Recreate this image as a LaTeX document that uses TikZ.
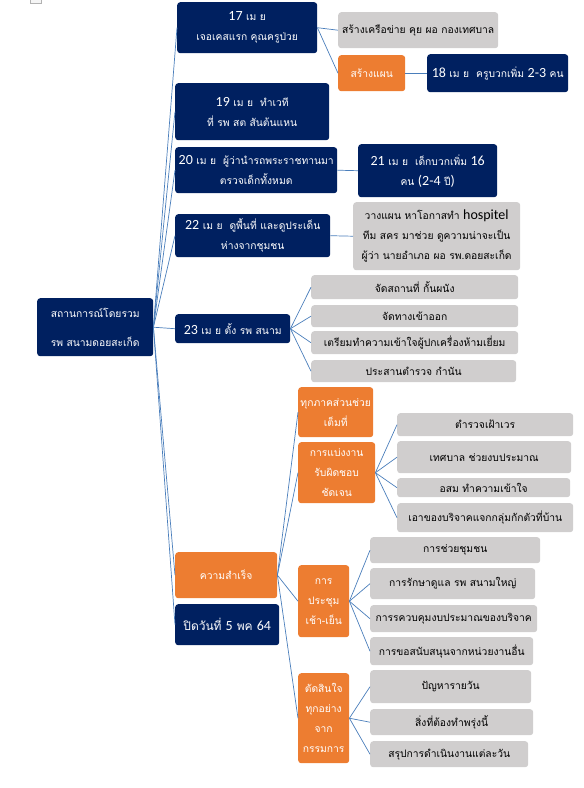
\documentclass[tikz,border=0pt]{standalone}
\usepackage{fontspec}
\setmainfont{Loma}[Script=Thai]
\newfontfamily\latfont{Carlito}
\usetikzlibrary{positioning}
\definecolor{mapblue}{HTML}{002060}
\definecolor{maporange}{HTML}{ED7D31}
\definecolor{mapgray}{HTML}{D0CECE}
\definecolor{mapline}{HTML}{4A7EBB}
\newcommand{\numtxt}[1]{{\latfont\fontsize{14}{16}\selectfont #1}}

\begin{document}
\begin{tikzpicture}[x=1pt,y=-1pt,
         box/.style = {rectangle, rounded corners=3pt, anchor=north west,
         inner sep=0pt, align=center, font=\fontsize{10.3}{20}\selectfont},
         bluebox/.style = {box, fill=mapblue, text=white},
         orangebox/.style = {box, fill=maporange, text=white},
         graybox/.style = {box, fill=mapgray, text=black},
         link/.style = {draw=mapline, line width=0.7pt}
]
         \useasboundingbox (0,0) rectangle (584,788);
         \draw[gray!60, fill=gray!8] (30,-2) rectangle (41,3);

         % root
         \node[bluebox, minimum width=116, minimum height=58,
         font=\fontsize{10.3}{29}\selectfont] (root) at (37,298)
         {สถานการณ์โดยรวม\\รพ สนามดอยสะเก็ด};

         % timeline
         \node[bluebox, minimum width=140, minimum height=51] (d17) at (177,2)
         {\numtxt{17} เม ย\\เจอเคสแรก คุณครูป่วย};
         \node[graybox, minimum width=160, minimum height=36] (d17net) at (338,12)
         {สร้างเครือข่าย คุย ผอ กองเทศบาล};
         \node[orangebox, minimum width=67, minimum height=36] (d17plan) at (338,55)
         {สร้างแผน};
         \node[bluebox, minimum width=141, minimum height=38] (d18) at (427,54)
         {\numtxt{18} เม ย\ \ ครูบวกเพิ่ม \numtxt{2-3} คน};

         \node[bluebox, minimum width=154, minimum height=57] (d19) at (175,83)
         {\numtxt{19} เม ย\ \ ทำเวที\\ที่ รพ สต สันต้นแหน};

         \node[bluebox, minimum width=162, minimum height=46] (d20) at (175,147)
         {\numtxt{20} เม ย\ \ ผู้ว่านำรถพระราชทานมา\\ตรวจเด็กทั้งหมด};
         \node[bluebox, minimum width=139, minimum height=53] (d21) at (358,144)
         {\numtxt{21} เม ย\ \ เด็กบวกเพิ่ม \numtxt{16}\\คน \numtxt{(2-4} ปี\numtxt{)}};

         \node[bluebox, minimum width=155, minimum height=43] (d22) at (175,214)
         {\numtxt{22} เม ย\ \ ดูพื้นที่ และดูประเด็น\\ห่างจากชุมชน};
         \node[graybox, minimum width=167, minimum height=68] (d22plan) at (353,202)
         {วางแผน หาโอกาสทำ \numtxt{hospitel}\\ทีม สคร มาช่วย ดูความน่าจะเป็น\\ผู้ว่า นายอำเภอ ผอ รพ.ดอยสะเก็ด};

         % field hospital
         \node[bluebox, minimum width=115, minimum height=29] (d23) at (175,314)
         {\numtxt{23} เม ย ตั้ง รพ สนาม};
         \node[graybox, minimum width=207, minimum height=24] (d23a) at (311,275)
         {จัดสถานที่ กั้นผนัง};
         \node[graybox, minimum width=207, minimum height=22] (d23b) at (311,305)
         {จัดทางเข้าออก};
         \node[graybox, minimum width=207, minimum height=23] (d23c) at (311,331)
         {เตรียมทำความเข้าใจผู้ปกเครื่องห้ามเยี่ยม};
         \node[graybox, minimum width=205, minimum height=22] (d23d) at (311,360)
         {ประสานตำรวจ กำนัน};

         % success
         \node[orangebox, minimum width=102, minimum height=46] (win) at (175,552)
         {ความสำเร็จ};
         \node[bluebox, minimum width=104, minimum height=41,
         font=\fontsize{12}{20}\selectfont] (close) at (175,604)
         {ปิดวันที่ \numtxt{5} พค \numtxt{64}};

         \node[orangebox, minimum width=75, minimum height=50] (win1) at (298,387)
         {ทุกภาคส่วนช่วย\\เต็มที่};

         \node[orangebox, minimum width=77, minimum height=61] (win2) at (298,442)
         {การแบ่งงาน\\รับผิดชอบ\\ชัดเจน};
         \node[graybox, minimum width=176, minimum height=23] (win2a) at (397,413)
         {ตำรวจเฝ้าเวร};
         \node[graybox, minimum width=174, minimum height=32] (win2b) at (397,441)
         {เทศบาล ช่วยงบประมาณ};
         \node[graybox, minimum width=173, minimum height=19] (win2c) at (397,478)
         {อสม ทำความเข้าใจ};
         \node[graybox, minimum width=176, minimum height=29] (win2d) at (397,503)
         {เอาของบริจาคแจกกลุ่มกักตัวที่บ้าน};

         \node[orangebox, minimum width=51, minimum height=72] (win3) at (298,565)
         {การ\\ประชุม\\เช้า-เย็น};
         \node[graybox, minimum width=170, minimum height=26] (win3a) at (370,537)
         {การช่วยชุมชน};
         \node[graybox, minimum width=165, minimum height=31] (win3b) at (370,568)
         {การรักษาดูแล รพ สนามใหญ่};
         \node[graybox, minimum width=167, minimum height=27] (win3c) at (370,605)
         {การรควบคุมงบประมาณของบริจาค};
         \node[graybox, minimum width=163, minimum height=28] (win3d) at (370,637)
         {การขอสนับสนุนจากหน่วยงานอื่น};

         \node[orangebox, minimum width=51, minimum height=90] (win4) at (298,673)
         {ตัดสินใจ\\ทุกอย่าง\\จาก\\กรรมการ};
         \node[graybox, minimum width=161, minimum height=33] (win4a) at (370,670)
         {ปัญหารายวัน};
         \node[graybox, minimum width=163, minimum height=26] (win4b) at (370,709)
         {สิ่งที่ต้องทำพรุ่งนี้};
         \node[graybox, minimum width=158, minimum height=26] (win4c) at (370,741)
         {สรุปการดำเนินงานแต่ละวัน};

         % connectors
         \draw[link] (root.east) -- (d17.west);
         \draw[link] (root.east) -- (d19.west);
         \draw[link] (root.east) -- (d20.west);
         \draw[link] (root.east) -- (d22.west);
         \draw[link] (root.east) -- (d23.west);
         \draw[link] (root.east) -- (win.west);
         \draw[link] (root.east) -- (close.west);

         \draw[link] (d17.east) -- (d17net.west);
         \draw[link] (d17.east) -- (d17plan.west);
         \draw[link] (d17plan.east) -- (d18.west);
         \draw[link] (d20.east) -- (d21.west);
         \draw[link] (d22.east) -- (d22plan.west);

         \draw[link] (d23.east) -- (d23a.west);
         \draw[link] (d23.east) -- (d23b.west);
         \draw[link] (d23.east) -- (d23c.west);
         \draw[link] (d23.east) -- (d23d.west);

         \draw[link] (win.east) -- (win1.west);
         \draw[link] (win.east) -- (win2.west);
         \draw[link] (win.east) -- (win3.west);
         \draw[link] (win.east) -- (win4.west);

         \draw[link] (win2.east) -- (win2a.west);
         \draw[link] (win2.east) -- (win2b.west);
         \draw[link] (win2.east) -- (win2c.west);
         \draw[link] (win2.east) -- (win2d.west);

         \draw[link] (win3.east) -- (win3a.west);
         \draw[link] (win3.east) -- (win3b.west);
         \draw[link] (win3.east) -- (win3c.west);
         \draw[link] (win3.east) -- (win3d.west);

         \draw[link] (win4.east) -- (win4a.west);
         \draw[link] (win4.east) -- (win4b.west);
         \draw[link] (win4.east) -- (win4c.west);
\end{tikzpicture}
\end{document}
